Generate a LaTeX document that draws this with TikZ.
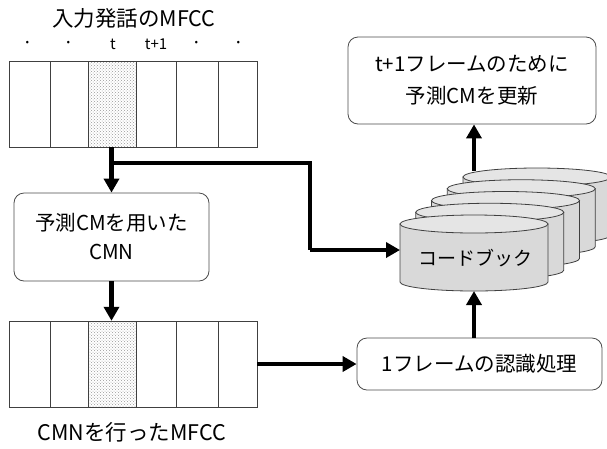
\documentclass[tikz,border=0pt]{standalone}
\usepackage{fontspec}
\setmainfont{Noto Sans CJK JP}
\usetikzlibrary{arrows.meta,patterns}
\begin{document}
\begin{tikzpicture}[x=1pt,y=-1pt,
  cell/.style={draw=black!75,line width=0.8pt},
  shaded/.style={fill=gray!12,pattern=crosshatch dots,pattern color=gray!80},
  procbox/.style={draw=black!70,line width=0.8pt,rounded corners=10pt,fill=white,
     font=\fontsize{20.5}{32}\selectfont,align=center,inner sep=0pt},
  flow/.style={line width=4.5pt,-{Triangle[length=14pt,width=15pt]}},
  lbl/.style={font=\fontsize{21.5}{24}\selectfont,inner sep=0pt},
  tick/.style={font=\fontsize{15}{18}\selectfont,inner sep=0pt},
  dotlbl/.style={font=\fontsize{19}{24}\selectfont,inner sep=0pt},
  cylside/.style={fill=gray!30,draw=black!75,line width=0.8pt},
  cyltop/.style={fill=gray!20,draw=black!75,line width=0.8pt}]
\useasboundingbox (0,0) rectangle (607,448);

% title and ticks
\node[lbl] (title) at (134,18) {入力発話のMFCC};
\node[dotlbl] (k1) at (28,45) {·};
\node[dotlbl] (k2) at (69,45) {·};
\node[tick] (k3) at (113,44) {t};
\node[tick] (k4) at (156,44) {t+1};
\node[dotlbl] (k5) at (197,45) {·};
\node[dotlbl] (k6) at (239,45) {·};

% top array
\fill[shaded] (88,61) rectangle (136,147);
\draw[cell] (9,61) rectangle (257,147);
\foreach \xx in {50,88,136,176,218} \draw[cell] (\xx,61) -- (\xx,147);
\node[inner sep=0pt,minimum width=248pt,minimum height=86pt] (top) at (133,104) {};

% bottom array
\fill[shaded] (88,321) rectangle (136,407);
\draw[cell] (9,321) rectangle (257,407);
\foreach \xx in {50,88,136,176,218} \draw[cell] (\xx,321) -- (\xx,407);
\node[inner sep=0pt,minimum width=248pt,minimum height=86pt] (bot) at (133,364) {};
\node[lbl] (botlbl) at (132,432) {CMNを行ったMFCC};

% boxes
\node[procbox,minimum width=195pt,minimum height=88pt,font=\fontsize{20.5}{29}\selectfont] (cmn) at (111.5,237) {予測CMを用いた\\CMN};
\node[procbox,minimum width=248pt,minimum height=87pt] (upd) at (472,80.5) {t+1フレームのために\\予測CMを更新};
\node[procbox,minimum width=245pt,minimum height=52pt] (rec) at (479.5,364) {1フレームの認識処理};

% cylinders (back to front)
\foreach \i in {4,3,2,1,0}{
  \pgfmathsetmacro{\cx}{474+15.75*\i}
  \pgfmathsetmacro{\ct}{224-11.75*\i}
  \pgfmathsetmacro{\cb}{282-11.75*\i}
  \draw[cylside] (\cx-74,\ct) -- (\cx-74,\cb) arc[start angle=180,end angle=360,x radius=74pt,y radius=9pt] -- (\cx+74,\ct) -- cycle;
  \draw[cyltop] (\cx,\ct) ellipse[x radius=74pt,y radius=9pt];
}
\node[lbl,font=\fontsize{19}{22}\selectfont] (cbk) at (475,258) {コードブック};
\coordinate (cbkleft) at (400,250);
\coordinate (cbkbot) at (474,291);
\coordinate (cbktop) at (474,171);
\coordinate (branch) at (112,163);
\coordinate (turn1) at (310,163);
\coordinate (turn2) at (310,250);

% connectors
\draw[flow] (top.south -| cmn.north) -- (cmn.north);
\draw[line width=4.5pt] (branch) -- (turn1) -- (turn2);
\draw[flow] (turn2) -- (cbkleft);
\draw[flow] (cmn.south) -- (cmn.south |- bot.north);
\draw[flow] (bot.east |- rec.west) -- (rec.west);
\draw[flow] (rec.north -| cbkbot) -- (cbkbot);
\draw[flow] (cbktop) -- (cbktop |- upd.south);
\end{tikzpicture}
\end{document}
